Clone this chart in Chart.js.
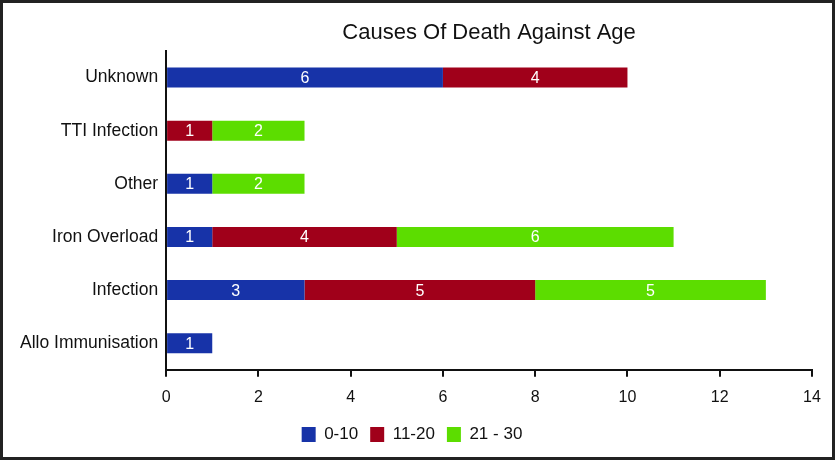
<!DOCTYPE html>
<html>
<head>
<meta charset="utf-8">
<script src="https://cdn.jsdelivr.net/npm/chart.js@4"></script>
<style>
  html, body { margin: 0; padding: 0; background: #fff; }
  #wrap { width: 835px; height: 460px; position: relative; }
</style>
</head>
<body>
<div id="wrap"><canvas id="deathChart"></canvas></div>
<script>
// categories top to bottom
const causes = ['Unknown', 'TTI Infection', 'Other', 'Iron Overload', 'Infection', 'Allo Immunisation'];
const age0to10 = [6, 0, 1, 1, 3, 1];
const age11to20 = [4, 1, 0, 4, 5, 0];
const age21to30 = [0, 2, 2, 6, 5, 0];
const xTicks = [0, 2, 4, 6, 8, 10, 12, 14];

const fontName = '"Liberation Sans", Arial, sans-serif';

// white numbers in the middle of each segment
const segLabels = {
    id: 'segLabels',
    afterDatasetsDraw(chart) {
        const ctx = chart.ctx;
        ctx.save();
        ctx.fillStyle = '#fff';
        ctx.font = '16px ' + fontName;
        ctx.textAlign = 'center';
        ctx.textBaseline = 'middle';
        chart.data.datasets.forEach((ds, i) => {
            chart.getDatasetMeta(i).data.forEach((bar, j) => {
                const v = ds.data[j];
                if (!v) return;
                const p = bar.getProps(['x', 'y', 'base'], true);
                ctx.fillText(String(v), (p.x + p.base) / 2, p.y + 1);
            });
        });
        ctx.restore();
    }
};

// title over the plot area + outer frame
const frameAndTitle = {
    id: 'frameAndTitle',
    afterDraw(chart) {
        const ctx = chart.ctx;
        const a = chart.chartArea;
        ctx.save();
        ctx.fillStyle = '#111';
        ctx.font = '22px ' + fontName;
        ctx.textAlign = 'center';
        ctx.textBaseline = 'alphabetic';
        ctx.fillText('Causes Of Death Against Age', (a.left + a.right) / 2, 39);
        ctx.strokeStyle = '#222';
        ctx.lineWidth = 3;
        ctx.strokeRect(1.5, 1.5, chart.width - 3, chart.height - 3);
        ctx.restore();
    }
};

const ctx = document.getElementById('deathChart').getContext('2d');
window.deathChart = new Chart(ctx, {
    type: 'bar',
    data: {
        labels: causes,
        datasets: [
            { label: '0-10', data: age0to10, backgroundColor: '#1733A8' },
            { label: '11-20', data: age11to20, backgroundColor: '#A0001A' },
            { label: '21 - 30', data: age21to30, backgroundColor: '#5CDD00' }
        ]
    },
    options: {
        indexAxis: 'y',
        responsive: true,
        maintainAspectRatio: false,
        animation: false,
        barPercentage: 0.377,
        categoryPercentage: 1,
        layout: { padding: { top: 51, left: 12, right: 23, bottom: 7 } },
        plugins: {
            legend: {
                position: 'bottom',
                labels: {
                    boxWidth: 14, boxHeight: 15,
                    color: '#111',
                    font: { family: fontName, size: 17 },
                    padding: 12
                }
            },
            title: { display: false },
            tooltip: { enabled: false }
        },
        scales: {
            x: {
                stacked: true,
                min: 0, max: 14,
                afterBuildTicks: (s) => { s.ticks = xTicks.map(v => ({ value: v })); },
                afterFit: (s) => { s.height -= 4; },
                ticks: { color: '#111', font: { family: fontName, size: 16 }, padding: 11 },
                grid: { drawOnChartArea: false, drawTicks: true, tickLength: 7, color: '#111', lineWidth: 2 },
                border: { color: '#111', width: 2 }
            },
            y: {
                stacked: true,
                ticks: { color: '#111', font: { family: fontName, size: 17.5 }, padding: 8 },
                grid: { display: false, drawTicks: false, tickLength: 0 },
                border: { color: '#111', width: 2 }
            }
        }
    },
    plugins: [segLabels, frameAndTitle]
});
</script>
</body>
</html>
